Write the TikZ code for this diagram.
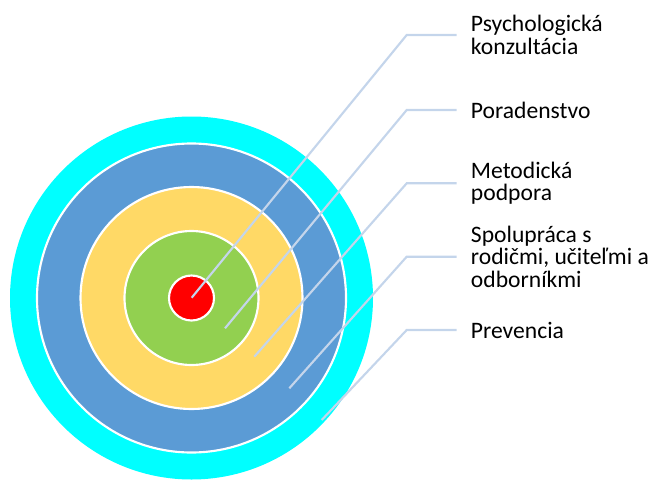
\documentclass[tikz,border=0pt]{standalone}
\usepackage{fontspec}
\setmainfont{Carlito}
\definecolor{ringcyan}{HTML}{00FFFF}
\definecolor{ringblue}{HTML}{5B9BD5}
\definecolor{ringyellow}{HTML}{FFD966}
\definecolor{ringgreen}{HTML}{92D050}
\definecolor{ringred}{HTML}{FF0000}
\definecolor{leader}{HTML}{C4D5EB}
\begin{document}
\begin{tikzpicture}[x=0.75pt,y=-0.75pt,
  ring/.style={draw=white,line width=1.6pt},
  leaderline/.style={draw=leader,line width=1.6pt},
  lab/.style={anchor=west,align=left,inner xsep=10.5pt,inner ysep=0pt,
    font=\fontsize{17.7pt}{17pt}\selectfont,text=black}]
\useasboundingbox (0,0) rectangle (654,479);
\coordinate (c) at (191.5,298);
\fill[ringcyan] (c) circle (181.5);
\filldraw[ring,fill=ringblue] (c) circle (154.5);
\filldraw[ring,fill=ringyellow] (c) circle (111);
\filldraw[ring,fill=ringgreen] (c) circle (67);
\filldraw[ring,fill=ringred] (c) circle (22.5);
% start points
\coordinate (s1) at (191.7,297.7);
\coordinate (s2) at (225,328.3);
\coordinate (s3) at (254.3,356.7);
\coordinate (s4) at (289.3,388.3);
\coordinate (s5) at (321.7,420);
% elbows
\coordinate (e1) at (406.7,35);
\coordinate (e2) at (406.7,110);
\coordinate (e3) at (406.7,183.3);
\coordinate (e4) at (406.7,256.7);
\coordinate (e5) at (406.7,330);
% labels
\node[lab] (l1) at (456.7,35) {Psychologická\\konzultácia};
\node[lab] (l2) at (456.7,110) {Poradenstvo};
\node[lab] (l3) at (456.7,183.3) {Metodická\\podpora};
\node[lab] (l4) at (456.7,256.7) {Spolupráca s\\rodičmi, učiteľmi a\\odborníkmi};
\node[lab] (l5) at (456.7,330) {Prevencia};
\draw[leaderline] (s1) -- (e1) -- (l1.west);
\draw[leaderline] (s2) -- (e2) -- (l2.west);
\draw[leaderline] (s3) -- (e3) -- (l3.west);
\draw[leaderline] (s4) -- (e4) -- (l4.west);
\draw[leaderline] (s5) -- (e5) -- (l5.west);
\end{tikzpicture}
\end{document}
